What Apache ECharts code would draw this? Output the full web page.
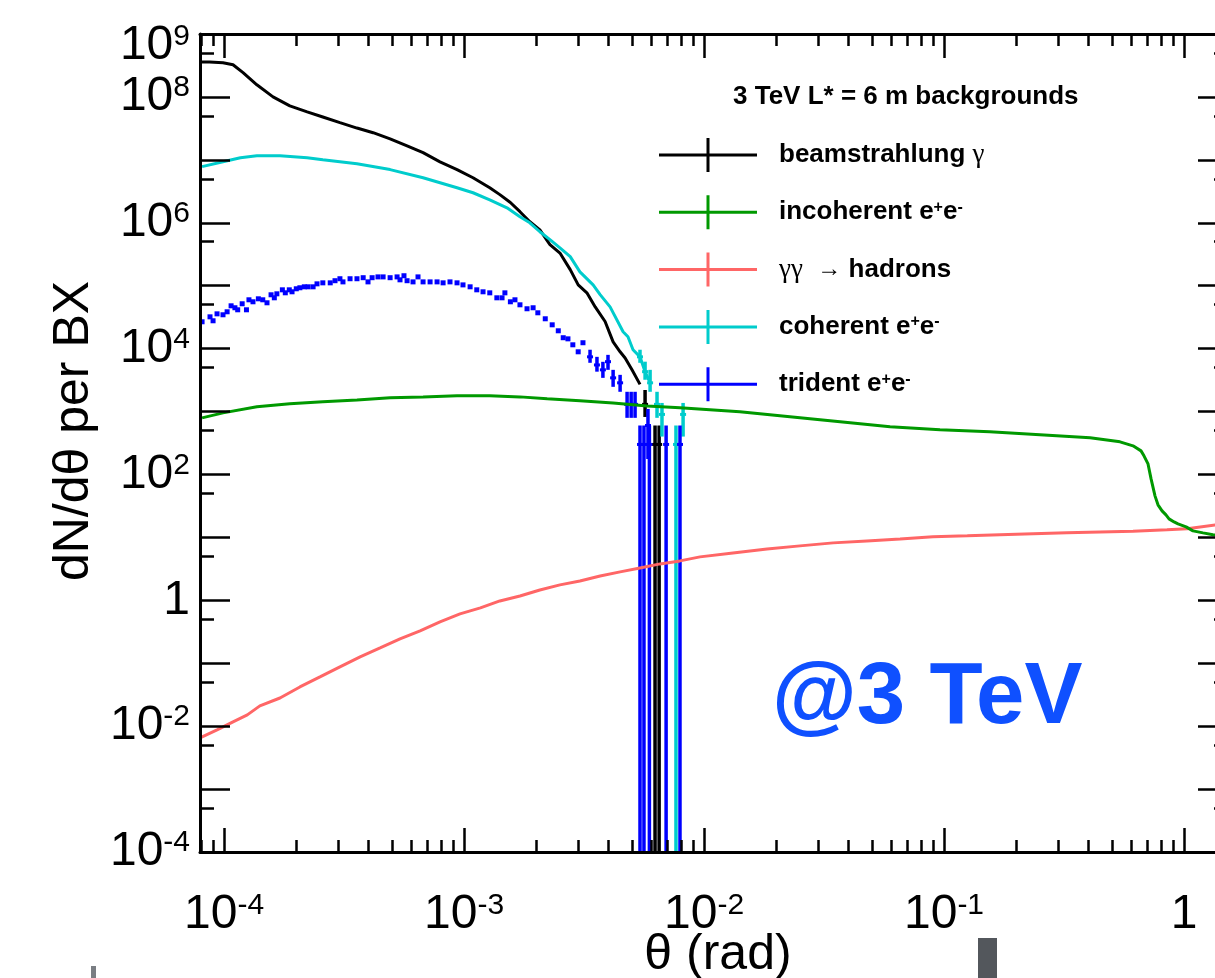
<!DOCTYPE html>
<html><head><meta charset="utf-8">
<script src="https://cdn.jsdelivr.net/npm/echarts@6/dist/echarts.min.js"></script>
<style>html,body{margin:0;padding:0;background:#fff}#c{width:1215px;height:978px}</style>
</head><body><div id="c"></div><script>
// ---------------- data ----------------
const seriesNames = ['beamstrahlung', 'incoherent', 'hadrons', 'coherent', 'trident'];
const seriesColors = ['#000000', '#009900', '#ff6666', '#00cccc', '#0000ff'];

const beamstrahlung = [[8.0e-5,3.6e8],[8.7e-5,3.6e8],[9.9e-5,3.5e8],[1.09e-4,3.25e8],[1.2e-4,2.43e8],[1.37e-4,1.56e8],[1.6e-4,1.0e8],[1.88e-4,7.2e7],[2.22e-4,5.8e7],[2.58e-4,4.8e7],[3.04e-4,3.9e7],[3.58e-4,3.2e7],[4.18e-4,2.7e7],[4.92e-4,2.16e7],[5.79e-4,1.67e7],[6.75e-4,1.3e7],[7.94e-4,9.3e6],[9.35e-4,7.0e6],[1.09e-3,5.2e6],[1.28e-3,3.6e6],[1.41e-3,2.8e6],[1.56e-3,2.1e6],[1.71e-3,1.5e6],[1.88e-3,1.04e6],[2.07e-3,7.7e5],[2.28e-3,4.5e5],[2.51e-3,3.3e5],[2.77e-3,1.8e5],[2.99e-3,1.03e5],[3.25e-3,7.7e4],[3.52e-3,4.6e4],[3.87e-3,2.7e4],[4.18e-3,1.28e4],[4.47e-3,8.9e3],[4.69e-3,7.1e3],[5.01e-3,4.6e3],[5.41e-3,2.7e3]];
// tail bins: [theta, value, low, high]  (low 0 = empty lower edge)
const beamstrahlungTail = [[5.68e-3,1.3e3,820,2.2e3],[6.25e-3,300,0,600],[6.5e-3,300,0,600]];

const coherent = [[8.1e-5,7.8e6],[9.9e-5,9.3e6],[1.17e-4,1.08e7],[1.37e-4,1.16e7],[1.71e-4,1.16e7],[2.22e-4,1.08e7],[2.58e-4,1.0e7],[3.58e-4,8.7e6],[4.92e-4,7.0e6],[6.75e-4,5.2e6],[9.35e-4,3.6e6],[1.09e-3,3.0e6],[1.28e-3,2.32e6],[1.51e-3,1.73e6],[1.71e-3,1.25e6],[1.88e-3,1.0e6],[2.07e-3,7.2e5],[2.28e-3,5.4e5],[2.51e-3,4.0e5],[2.77e-3,2.9e5],[3.04e-3,1.66e5],[3.45e-3,1.03e5],[3.69e-3,7.2e4],[4.06e-3,4.6e4],[4.6e-3,1.85e4],[4.82e-3,1.54e4],[5.06e-3,9.6e3],[5.41e-3,7.4e3],[5.68e-3,4.3e3],[5.96e-3,2.86e3]];
const coherentTail = [[5.41e-3,7.4e3,5.95e3,9.6e3],[5.68e-3,4.3e3,3.2e3,6.2e3],[5.96e-3,2.86e3,2.06e3,4.6e3],[6.37e-3,1.3e3,794,2.06e3],[6.68e-3,900,400,1.37e3],[7.64e-3,300,0,600],[8.18e-3,900,400,1.37e3]];

const trident = [[8.1e-5,2.67e4],[8.74e-5,3.2e4],[9.0e-5,2.77e4],[9.35e-5,3.57e4],[9.9e-5,3.45e4],[1.03e-4,3.85e4],[1.07e-4,4.79e4],[1.11e-4,4.46e4],[1.14e-4,4.14e4],[1.19e-4,5.16e4],[1.24e-4,4.14e4],[1.27e-4,5.97e4],[1.32e-4,5.55e4],[1.39e-4,6.19e4],[1.45e-4,5.97e4],[1.51e-4,5.35e4],[1.57e-4,7.17e4],[1.62e-4,6.42e4],[1.66e-4,7.43e4],[1.75e-4,8.6e4],[1.8e-4,7.71e4],[1.87e-4,8.6e4],[1.92e-4,8.0e4],[2.0e-4,8.93e4],[2.07e-4,9.27e4],[2.16e-4,9.6e4],[2.24e-4,9.6e4],[2.35e-4,9.6e4],[2.44e-4,1.07e5],[2.58e-4,1.11e5],[2.77e-4,1.11e5],[2.9e-4,1.2e5],[3.04e-4,1.29e5],[3.13e-4,1.15e5],[3.35e-4,1.29e5],[3.58e-4,1.29e5],[3.8e-4,1.34e5],[3.98e-4,1.15e5],[4.14e-4,1.34e5],[4.38e-4,1.38e5],[4.6e-4,1.38e5],[4.92e-4,1.34e5],[5.26e-4,1.38e5],[5.41e-4,1.24e5],[5.62e-4,1.44e5],[5.79e-4,1.2e5],[6.13e-4,1.15e5],[6.43e-4,1.38e5],[6.75e-4,1.15e5],[7.22e-4,1.15e5],[7.72e-4,1.15e5],[8.18e-4,1.11e5],[8.74e-4,1.15e5],[9.35e-4,1.11e5],[9.9e-4,1.03e5],[1.06e-3,9.6e4],[1.13e-3,8.6e4],[1.2e-3,8.0e4],[1.28e-3,7.7e4],[1.37e-3,6.42e4],[1.44e-3,6.42e4],[1.48e-3,7.7e4],[1.56e-3,5.55e4],[1.63e-3,5.97e4],[1.71e-3,4.97e4],[1.83e-3,4.3e4],[1.94e-3,4.46e4],[2.03e-3,3.71e4],[2.18e-3,2.98e4],[2.33e-3,2.39e4],[2.47e-3,1.92e4],[2.59e-3,1.49e4],[2.71e-3,1.43e4],[2.84e-3,1.15e4],[2.99e-3,8.9e3],[3.13e-3,1.24e4]];
const tridentTail = [[3.35e-3,7.4e3,5.95e3,9.6e3],[3.58e-3,5.5e3,4.3e3,7.4e3],[3.79e-3,4.6e3,3.43e3,6.17e3],[3.98e-3,6.2e3,4.6e3,7.96e3],[4.18e-3,3.43e3,2.47e3,4.6e3],[4.47e-3,2.86e3,2.06e3,3.83e3],[4.78e-3,1.3e3,794,2.06e3],[4.97e-3,1.3e3,794,2.06e3],[5.16e-3,1.3e3,794,2.06e3],[5.41e-3,300,0,600],[5.62e-3,300,0,600],[5.84e-3,600,176,1.1e3],[5.92e-3,300,0,600],[6.95e-3,300,0,600],[7.94e-3,300,0,600]];

const incoherent = [[8.1e-5,794],[9.9e-5,953],[1.37e-4,1.19e3],[1.88e-4,1.33e3],[2.58e-4,1.43e3],[3.58e-4,1.53e3],[4.92e-4,1.65e3],[6.75e-4,1.71e3],[9.35e-4,1.78e3],[1.28e-3,1.78e3],[1.71e-3,1.71e3],[2.22e-3,1.59e3],[3.04e-3,1.48e3],[4.18e-3,1.37e3],[5.79e-3,1.23e3],[7.94e-3,1.15e3],[1.41e-2,989],[2.28e-2,824],[3.69e-2,686],[5.96e-2,571],[9.62e-2,512],[0.155,476],[0.251,427],[0.406,382],[0.541,330],[0.613,285],[0.662,237],[0.681,198],[0.708,147],[0.729,85],[0.757,45.7],[0.779,32.9],[0.81,26.4],[0.841,22.8],[0.866,19.7],[0.909,17.6],[0.944,16.4],[1.02,14.7],[1.09,12.7],[1.2,11.8],[1.32,11.0],[1.5,10.4]];

const hadrons = [[7.94e-5,6.5e-3],[9.35e-5,8.7e-3],[1.09e-4,1.17e-2],[1.25e-4,1.51e-2],[1.41e-4,2.1e-2],[1.71e-4,2.8e-2],[2.07e-4,4.2e-2],[2.51e-4,6.05e-2],[3.04e-4,8.73e-2],[3.69e-4,0.126],[4.47e-4,0.175],[5.41e-4,0.243],[6.56e-4,0.327],[7.94e-4,0.454],[9.62e-4,0.608],[1.17e-3,0.757],[1.41e-3,0.977],[1.71e-3,1.17],[2.07e-3,1.46],[2.51e-3,1.76],[3.04e-3,2.03],[3.69e-3,2.44],[4.47e-3,2.83],[5.41e-3,3.27],[6.56e-3,3.79],[7.94e-3,4.23],[9.62e-3,4.9],[1.32e-2,5.67],[1.83e-2,6.56],[2.51e-2,7.33],[3.45e-2,8.18],[4.77e-2,8.8],[6.56e-2,9.46],[8.99e-2,10.2],[0.125,10.6],[0.171,11.0],[0.235,11.4],[0.325,11.8],[0.447,12.2],[0.613,12.5],[0.849,13.2],[1.03,13.7],[1.35,15.8],[1.5,17.0]];

// axes / ticks
const X_MIN = 7.94e-5, X_MAX = 1.525, Y_MIN = 1e-4, Y_MAX = 1e9;
const xMajorTicks = [1e-4, 1e-3, 1e-2, 1e-1, 1];
const xMinorTicks = [8e-5, 9e-5,
  2e-4, 3e-4, 4e-4, 5e-4, 6e-4, 7e-4, 8e-4, 9e-4,
  2e-3, 3e-3, 4e-3, 5e-3, 6e-3, 7e-3, 8e-3, 9e-3,
  2e-2, 3e-2, 4e-2, 5e-2, 6e-2, 7e-2, 8e-2, 9e-2,
  0.2, 0.3, 0.4, 0.5, 0.6, 0.7, 0.8, 0.9];
const yMajorTicks = [1e-4,1e-3,1e-2,1e-1,1,10,1e2,1e3,1e4,1e5,1e6,1e7,1e8,1e9];
const yMinorTicks = [5e-4,5e-3,5e-2,0.5,5,50,5e2,5e3,5e4,5e5,5e6,5e7,5e8];
const yLabelValues = [1e-4,1e-2,1,1e2,1e4,1e6,1e8];
const yTopLabelValues = [1e9];

const legendHeader = '3 TeV L* = 6 m backgrounds';
const legendLabels = {
  beamstrahlung: 'beamstrahlung {g|γ}',
  incoherent: 'incoherent e{s|+}e{s|-}',
  hadrons: '{g|γγ}  {a|→} hadrons',
  coherent: 'coherent e{s|+}e{s|-}',
  trident: 'trident e{s|+}e{s|-}'
};
const xTitle = 'θ (rad)';
const yTitle = 'dN/dθ per BX';
const energyLabel = '@3 TeV';

// ---------------- chart ----------------
const FONT = "'Liberation Sans', Arial, Helvetica, sans-serif";
const SERIF = "'Liberation Serif', 'DejaVu Serif', serif";
const chart = echarts.init(document.getElementById('c'), null, {renderer: 'canvas'});

function powLabel(v) {
  const e = Math.round(Math.log10(v));
  if (e === 0) return '{b|1}';
  return '{b|10}{s|' + (e < 0 ? '-' + (-e) : String(e)) + '}';
}
const labelRich = {
  b: {fontFamily: FONT, fontSize: 48, color: '#000'},
  s: {fontFamily: FONT, fontSize: 30, color: '#000', verticalAlign: 'top'}
};

function logAxis(pos, isX, opts) {
  const base = {
    type: 'log', logBase: 10, gridIndex: 0, position: pos,
    min: isX ? X_MIN : Y_MIN, max: isX ? X_MAX : Y_MAX,
    splitLine: {show: false}, minorTick: {show: false}, minorSplitLine: {show: false},
    axisLine: {show: false, onZero: false},
    axisTick: {show: false},
    axisLabel: {show: false},
    silent: true, z: 10
  };
  return Object.assign(base, opts);
}
const axisLineStyle = {show: true, onZero: false, lineStyle: {color: '#000', width: 3}};
function ticks(values, len) {
  return {show: true, inside: true, length: len, customValues: values, lineStyle: {color: '#000', width: 2.5}};
}

const xAxes = [
  logAxis('bottom', true, {
    axisLine: axisLineStyle, axisTick: ticks(xMajorTicks, 24),
    axisLabel: {show: true, customValues: xMajorTicks, margin: 39, formatter: powLabel, rich: labelRich, fontFamily: FONT, fontSize: 48, color: '#000'},
    name: xTitle, nameLocation: 'middle', nameGap: 78, nameMoveOverlap: false,
    nameTextStyle: {fontFamily: FONT, fontSize: 50, color: '#000', padding: [0, 0, 0, 8]}
  }),
  logAxis('bottom', true, {axisTick: ticks(xMinorTicks, 12)}),
  logAxis('top', true, {axisLine: axisLineStyle, axisTick: ticks(xMajorTicks, 24)}),
  logAxis('top', true, {axisTick: ticks(xMinorTicks, 12)})
];
const yAxes = [
  logAxis('left', false, {
    axisLine: axisLineStyle, axisTick: ticks(yMajorTicks, 30),
    axisLabel: {show: true, customValues: yLabelValues, margin: 10, formatter: powLabel, rich: labelRich, fontFamily: FONT, fontSize: 48, color: '#000'},
    name: yTitle, nameLocation: 'middle', nameGap: 88,
    nameTextStyle: {fontFamily: FONT, fontSize: 50, color: '#000', padding: [0, 0, 0, 24]}
  }),
  logAxis('left', false, {
    axisTick: ticks(yMinorTicks, 14),
    axisLabel: {show: true, customValues: yTopLabelValues, margin: 10, padding: [24, 0, 0, 0], formatter: powLabel, rich: labelRich, fontFamily: FONT, fontSize: 48, color: '#000'}
  }),
  logAxis('right', false, {axisLine: axisLineStyle, axisTick: ticks(yMajorTicks, 30)}),
  logAxis('right', false, {axisTick: ticks(yMinorTicks, 14)})
];

function lineSeries(name, data, color) {
  return {
    name: name, type: 'line', data: data, xAxisIndex: 0, yAxisIndex: 0,
    symbol: 'none', showSymbol: false, clip: true,
    lineStyle: {color: color, width: 3}, itemStyle: {color: color},
    emphasis: {disabled: true}, animation: false
  };
}
function errSeries(name, data, color) {
  return {
    name: name, type: 'custom', data: data, xAxisIndex: 0, yAxisIndex: 0,
    encode: {x: 0, y: 1}, clip: true, animation: false, z: 3,
    renderItem: function (params, api) {
      const x = api.value(0), v = api.value(1), lo = api.value(2), hi = api.value(3);
      const cs = params.coordSys;
      const pV = api.coord([x, v]);
      const pHi = api.coord([x, hi]);
      const yLo = lo > 0 ? api.coord([x, lo])[1] : cs.y + cs.height;
      return {type: 'group', children: [
        {type: 'line', shape: {x1: pV[0], y1: pHi[1], x2: pV[0], y2: yLo}, style: {stroke: color, lineWidth: 3.5}},
        {type: 'line', shape: {x1: pV[0] - 3, y1: pV[1], x2: pV[0] + 3, y2: pV[1]}, style: {stroke: color, lineWidth: 3}}
      ]};
    }
  };
}

const iconPath = 'path://M0,15.5h98v3h-98z M47.5,0h3v34h-3z';

const option = {
  animation: false,
  backgroundColor: '#ffffff',
  grid: {left: 200, top: 34, right: -13, bottom: 126, containLabel: false, outerBoundsMode: 'none'},
  xAxis: xAxes,
  yAxis: yAxes,
  title: [
    {text: legendHeader, left: 733, top: 84, textStyle: {fontFamily: FONT, fontWeight: 'bold', fontSize: 26, color: '#000'}, padding: 0},
    {text: energyLabel, left: 772, top: 656, textStyle: {fontFamily: FONT, fontWeight: 'bold', fontSize: 87, color: '#0f50ff'}, padding: 0}
  ],
  legend: {
    orient: 'vertical', left: 659, top: 138, padding: 0,
    itemWidth: 98, itemHeight: 34, itemGap: 23.3,
    icon: iconPath, selectedMode: false,
    itemStyle: {borderWidth: 0, opacity: 1},
    data: seriesNames,
    formatter: function (name) { return legendLabels[name]; },
    textStyle: {
      fontFamily: FONT, fontWeight: 'bold', fontSize: 26, color: '#000', padding: [0, 0, 0, 17],
      rich: {
        g: {fontFamily: SERIF, fontWeight: 'normal', fontSize: 27, color: '#000'},
        a: {fontFamily: SERIF, fontWeight: 'normal', fontSize: 24, color: '#000'},
        s: {fontFamily: FONT, fontWeight: 'bold', fontSize: 16, color: '#000', verticalAlign: 'top'}
      }
    }
  },
  graphic: [
    {type: 'rect', left: 978, top: 938, shape: {width: 19, height: 40}, style: {fill: '#53575c'}, silent: true},
    {type: 'rect', left: 91, top: 966, shape: {width: 5, height: 12}, style: {fill: '#7a7e83'}, silent: true}
  ],
  series: [
    lineSeries(seriesNames[2], hadrons, seriesColors[2]),
    lineSeries(seriesNames[1], incoherent, seriesColors[1]),
    lineSeries(seriesNames[0], beamstrahlung, seriesColors[0]),
    errSeries('beamstrahlung tail', beamstrahlungTail, seriesColors[0]),
    lineSeries(seriesNames[3], coherent, seriesColors[3]),
    errSeries('coherent tail', coherentTail, seriesColors[3]),
    {
      name: seriesNames[4], type: 'scatter', data: trident, xAxisIndex: 0, yAxisIndex: 0,
      symbol: 'rect', symbolSize: [5, 5], itemStyle: {color: seriesColors[4], opacity: 1}, clip: true,
      emphasis: {disabled: true}, animation: false
    },
    errSeries('trident tail', tridentTail, seriesColors[4])
  ]
};
chart.setOption(option);
</script></body></html>
